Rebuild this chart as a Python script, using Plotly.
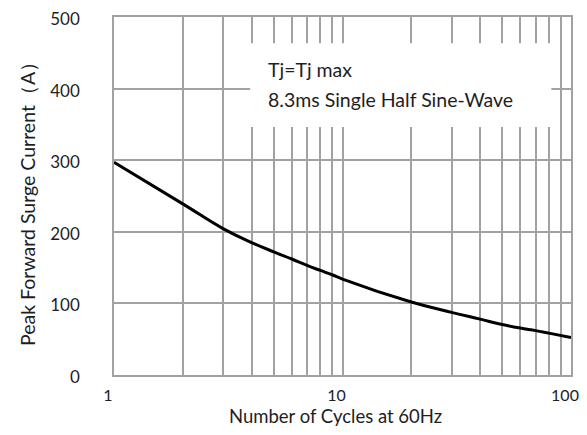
import plotly.graph_objects as go

cycles = [1, 2, 3, 4, 5, 6, 7, 8, 9, 10, 20, 30, 40, 50, 60, 70, 80, 100]
current = [297, 239, 204.5, 185, 172, 162, 153, 146, 140, 134, 102, 87.5, 78, 70.5, 65.5, 62, 58.5, 52.5]

x_tick_vals = [1, 10, 100]
x_tick_text = ["1", "10", "100"]
x_minor_vals = [2, 3, 4, 5, 6, 7, 8, 9, 20, 30, 40, 50, 60, 70, 80, 90]
y_tick_vals = [0, 100, 200, 300, 400, 500]

FONT = "Lato"
TXT = "#1e1e1e"
GRID = "#a2a2a2"

fig = go.Figure()
fig.add_trace(go.Scatter(
    x=cycles, y=current, mode="lines",
    line=dict(color="black", width=3, shape="spline", smoothing=1.2),
    showlegend=False, hoverinfo="skip",
))

# page body adds ~8px offset, so the figure is sized to fit the window
fig.update_layout(
    width=579, height=419,
    margin=dict(l=106, r=16, t=9, b=52),
    paper_bgcolor="white", plot_bgcolor="white",
    font=dict(family=FONT, size=17, color=TXT),
    xaxis=dict(
        type="log", range=[0, 2], automargin=False,
        tickmode="array", tickvals=x_tick_vals, ticktext=x_tick_text,
        tickfont=dict(family=FONT, size=16, color=TXT),
        showgrid=True, gridcolor=GRID, gridwidth=1.6,
        minor=dict(tickmode="array", tickvals=x_minor_vals, showgrid=True,
                   gridcolor=GRID, gridwidth=1.6, ticks=""),
        showline=True, linecolor=GRID, linewidth=1.6, mirror=True,
        ticks="", ticklabelstandoff=5, ticklabelshift=-6,
        ticklabeloverflow="allow",
        zeroline=False,
    ),
    yaxis=dict(
        range=[0, 500], automargin=False,
        tickmode="array", tickvals=y_tick_vals,
        showgrid=True, gridcolor=GRID, gridwidth=1.6,
        showline=True, linecolor=GRID, linewidth=1.6, mirror=True,
        ticks="", ticklabelstandoff=29, ticklabelshift=2,
        ticklabeloverflow="allow",
        zeroline=False,
    ),
)

fig.add_shape(type="rect", xref="paper", yref="paper",
              x0=0.298, x1=0.957, y0=0.693, y1=0.927,
              fillcolor="white", line=dict(width=0), layer="above")

fig.add_annotation(xref="paper", yref="paper", x=0.333, y=0.852,
                   text="Tj=Tj max", showarrow=False,
                   xanchor="left", yanchor="middle",
                   font=dict(family=FONT, size=19.5, color=TXT))
fig.add_annotation(xref="paper", yref="paper", x=0.333, y=0.770,
                   text="8.3ms Single Half Sine-Wave", showarrow=False,
                   xanchor="left", yanchor="middle",
                   font=dict(family=FONT, size=19.5, color=TXT))

fig.add_annotation(xref="paper", yref="paper",
                   x=(335.5 - 114) / 457, y=-(416 - 375) / 358,
                   text="Number of Cycles at 60Hz", showarrow=False,
                   xanchor="center", yanchor="middle",
                   font=dict(family=FONT, size=18.5, color=TXT))
fig.add_annotation(xref="paper", yref="paper",
                   x=-(114 - 27) / 457, y=(375 - 199) / 358,
                   text="Peak Forward Surge Current（A）", showarrow=False,
                   textangle=-90, xanchor="center", yanchor="middle",
                   font=dict(family=FONT, size=19.5, color=TXT))

fig.write_html("out.html")
